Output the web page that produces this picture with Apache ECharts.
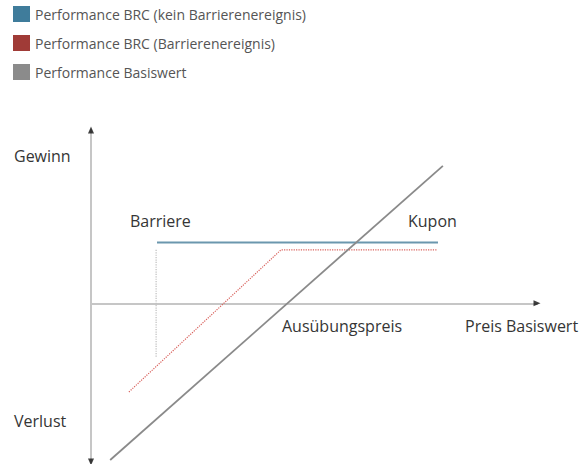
<!DOCTYPE html>
<html>
<head>
<meta charset="utf-8">
<script src="https://cdn.jsdelivr.net/npm/echarts@6/dist/echarts.min.js"></script>
<style>
html,body{margin:0;padding:0;background:#fff;}
#chart{width:585px;height:464px;}
</style>
</head>
<body>
<div id="chart"></div>
<script>
// ---- data (abstract units: x = price of underlying, y = profit/loss) ----
const seriesNames = [
  "Performance BRC (kein Barrierenereignis)",
  "Performance BRC (Barrierenereignis)",
  "Performance Basiswert"
];
const brcNoBarrier = [[14.8, 18.3], [77.8, 18.3]];
const brcBarrier = [[8.5, -26.7], [42.6, 16.1], [77.6, 16.1]];
const barrierMarker = [[14.6, 16.1], [14.6, -16.2]];
const underlying = [[4.3, -47.2], [78.9, 41.4]];
const xRange = [0, 100];
const yRange = [-47.8, 52.2];
const axisLabels = {
  gain: "Gewinn",
  loss: "Verlust",
  barrier: "Barriere",
  coupon: "Kupon",
  strike: "Ausübungspreis",
  price: "Preis Basiswert"
};

const FONT = "'Open Sans', 'Noto Sans', sans-serif";
const chart = echarts.init(document.getElementById('chart'), null, {renderer: 'svg'});

const textStyle = {fontFamily: FONT, fontSize: 16, fill: '#353535'};
function label(txt, x, y) {
  return {type: 'text', left: x, top: y, style: Object.assign({text: txt}, textStyle)};
}

chart.setOption({
  animation: false,
  backgroundColor: '#fff',
  legend: {
    orient: 'vertical',
    left: 13,
    top: 6,
    padding: 0,
    itemWidth: 17,
    itemHeight: 16,
    itemGap: 13,
    icon: 'rect',
    selectedMode: false,
    textStyle: {fontFamily: FONT, fontSize: 14, color: '#555'},
    data: [
      {name: seriesNames[0], itemStyle: {color: '#3f7c9b', borderWidth: 0}},
      {name: seriesNames[1], itemStyle: {color: '#a03b37', borderWidth: 0}},
      {name: seriesNames[2], itemStyle: {color: '#8b8b8b', borderWidth: 0}}
    ]
  },
  grid: {left: 91, right: 48, top: 130, bottom: 2},
  xAxis: {
    type: 'value', min: xRange[0], max: xRange[1],
    axisLine: {onZero: true, lineStyle: {color: '#c6c6c6', width: 2}},
    axisTick: {show: false}, axisLabel: {show: false}, splitLine: {show: false}
  },
  yAxis: {
    type: 'value', min: yRange[0], max: yRange[1],
    axisLine: {show: true, onZero: true, lineStyle: {color: '#c6c6c6', width: 2}},
    axisTick: {show: false}, axisLabel: {show: false}, splitLine: {show: false}
  },
  series: [
    {
      name: seriesNames[0], type: 'line', data: brcNoBarrier, symbol: 'none',
      lineStyle: {color: '#6b97ae', width: 2}, itemStyle: {color: '#3f7c9b'}
    },
    {
      name: seriesNames[1], type: 'line', data: brcBarrier, symbol: 'none',
      lineStyle: {color: '#d8605b', width: 1.2, type: 'dotted'}, itemStyle: {color: '#a03b37'}
    },
    {
      name: 'barrierMarker', type: 'line', data: barrierMarker, symbol: 'none',
      lineStyle: {color: '#bdbdbd', width: 1.2, type: 'dotted'}
    },
    {
      name: seriesNames[2], type: 'line', data: underlying, symbol: 'none',
      lineStyle: {color: '#8a8a8a', width: 1.8}, itemStyle: {color: '#8b8b8b'}
    },
    {
      name: 'arrows', type: 'scatter', clip: false, symbol: 'triangle', symbolSize: [6, 7],
      itemStyle: {color: '#111'}, silent: true,
      data: [
        {value: [xRange[1], 0], symbolRotate: -90},
        {value: [xRange[0], yRange[1]], symbolRotate: 0},
        {value: [xRange[0], yRange[0]], symbolRotate: 180}
      ]
    }
  ],
  graphic: [
    label(axisLabels.gain, 14, 148),
    label(axisLabels.loss, 14, 413),
    label(axisLabels.barrier, 130, 213),
    label(axisLabels.coupon, 408, 213),
    label(axisLabels.strike, 282, 318),
    label(axisLabels.price, 465, 318)
  ]
});
</script>
</body>
</html>
